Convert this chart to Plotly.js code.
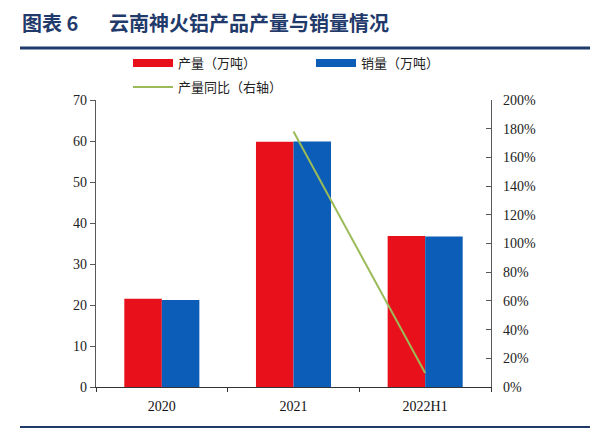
<!DOCTYPE html>
<html><head><meta charset="utf-8">
<script src="https://cdn.plot.ly/plotly-3.0.1.min.js"></script>
<style>html,body{margin:0;padding:0;background:#fff}#c{width:600px;height:433px}</style>
</head><body><div id="c"></div>
<script>
const categories = ['2020', '2021', '2022H1'];
const production = [21.5, 59.8, 36.8];
const sales = [21.2, 59.9, 36.7];
const prodYoY = [null, 1.78, 0.098];
const leftTicks = [0, 10, 20, 30, 40, 50, 60, 70];
const rightTicks = [0, 0.2, 0.4, 0.6, 0.8, 1.0, 1.2, 1.4, 1.6, 1.8, 2.0];
const seriesNames = ['产量（万吨）', '销量（万吨）', '产量同比（右轴）'];
const titleLabel = '图表&nbsp;6';
const titleText = '云南神火铝产品产量与销量情况';

const cjk = '"Noto Sans CJK SC", "Noto Sans", sans-serif';
const serif = '"Liberation Serif", "Times New Roman", serif';
const RED = '#E8111B', BLUE = '#0B5DB8', GREEN = '#9BBB59', NAVY = '#1F3A6B';

const traces = [
  {type:'bar', name:seriesNames[0], x:categories, y:production, marker:{color:RED}, showlegend:false},
  {type:'bar', name:seriesNames[1], x:categories, y:sales, marker:{color:BLUE}, showlegend:false},
  {type:'scatter', mode:'lines', name:seriesNames[2], x:categories, y:prodYoY, yaxis:'y2',
   line:{color:GREEN, width:2}, connectgaps:false, showlegend:false},
  // legend proxies (wide rectangular swatches)
  {type:'scatter', mode:'lines', name:seriesNames[0], x:[categories[0]], y:[null], line:{color:RED, width:8}, legend:'legend', hoverinfo:'skip'},
  {type:'scatter', mode:'lines', name:seriesNames[1], x:[categories[0]], y:[null], line:{color:BLUE, width:8}, legend:'legend2', hoverinfo:'skip'},
  {type:'scatter', mode:'lines', name:seriesNames[2], x:[categories[0]], y:[null], yaxis:'y2', line:{color:GREEN, width:2}, legend:'legend3', hoverinfo:'skip'}
];

const px = v => (v - 96) / 395;   // pixel x -> paper
const py = v => (387 - v) / 287;  // pixel y -> paper
const legFont = {family:cjk, size:13, color:'#222'};
const legBase = {orientation:'h', xanchor:'left', yanchor:'middle', font:legFont, itemwidth:40, bgcolor:'rgba(0,0,0,0)', borderwidth:0};

const layout = {
  width:600, height:433,
  margin:{l:96, r:109, t:100, b:46},
  paper_bgcolor:'#fff', plot_bgcolor:'#fff',
  barmode:'group', bargap:0.43, bargroupgap:0,
  showlegend:true,
  legend:Object.assign({}, legBase, {x:px(128), y:py(63)}),
  legend2:Object.assign({}, legBase, {x:px(311), y:py(63)}),
  legend3:Object.assign({}, legBase, {x:px(128), y:py(87)}),
  xaxis:{type:'category', showline:true, linecolor:'#333', linewidth:1.2, ticks:'outside', tickson:'boundaries',
    ticklen:4, tickcolor:'#333', showgrid:false, tickfont:{family:serif, size:14, color:'#111'}, zeroline:false,
    ticklabelstandoff:6},
  yaxis:{range:[0,70], tickvals:leftTicks, showline:true, linecolor:'#595959', linewidth:1.2, ticks:'outside',
    ticklen:5, tickcolor:'#595959', showgrid:false, zeroline:false, tickfont:{family:serif, size:14, color:'#222'}},
  yaxis2:{overlaying:'y', side:'right', range:[0,2], tickvals:rightTicks, tickformat:'.0%', showline:true,
    linecolor:'#595959', linewidth:1.2, ticks:'inside', ticklen:5, tickcolor:'#595959', showgrid:false,
    zeroline:false, tickfont:{family:serif, size:14, color:'#222'}, ticklabelstandoff:8},
  annotations:[
    {xref:'paper', yref:'paper', x:px(20), y:py(22), xanchor:'left', yanchor:'middle',
     text:'<b>' + titleLabel + '</b>', showarrow:false,
     font:{family:cjk, size:20, color:NAVY}},
    {xref:'paper', yref:'paper', x:px(107), y:py(22), xanchor:'left', yanchor:'middle',
     text:'<b>' + titleText + '</b>', showarrow:false,
     font:{family:cjk, size:20, color:NAVY}}
  ],
  shapes:[
    {type:'line', xref:'paper', yref:'paper', x0:px(20), x1:px(590), y0:py(48), y1:py(48), line:{color:NAVY, width:3}},
    {type:'line', xref:'paper', yref:'paper', x0:px(20), x1:px(590), y0:py(427), y1:py(427), line:{color:NAVY, width:2}}
  ]
};

Plotly.newPlot('c', traces, layout, {staticPlot:true, displayModeBar:false});
</script></body></html>
